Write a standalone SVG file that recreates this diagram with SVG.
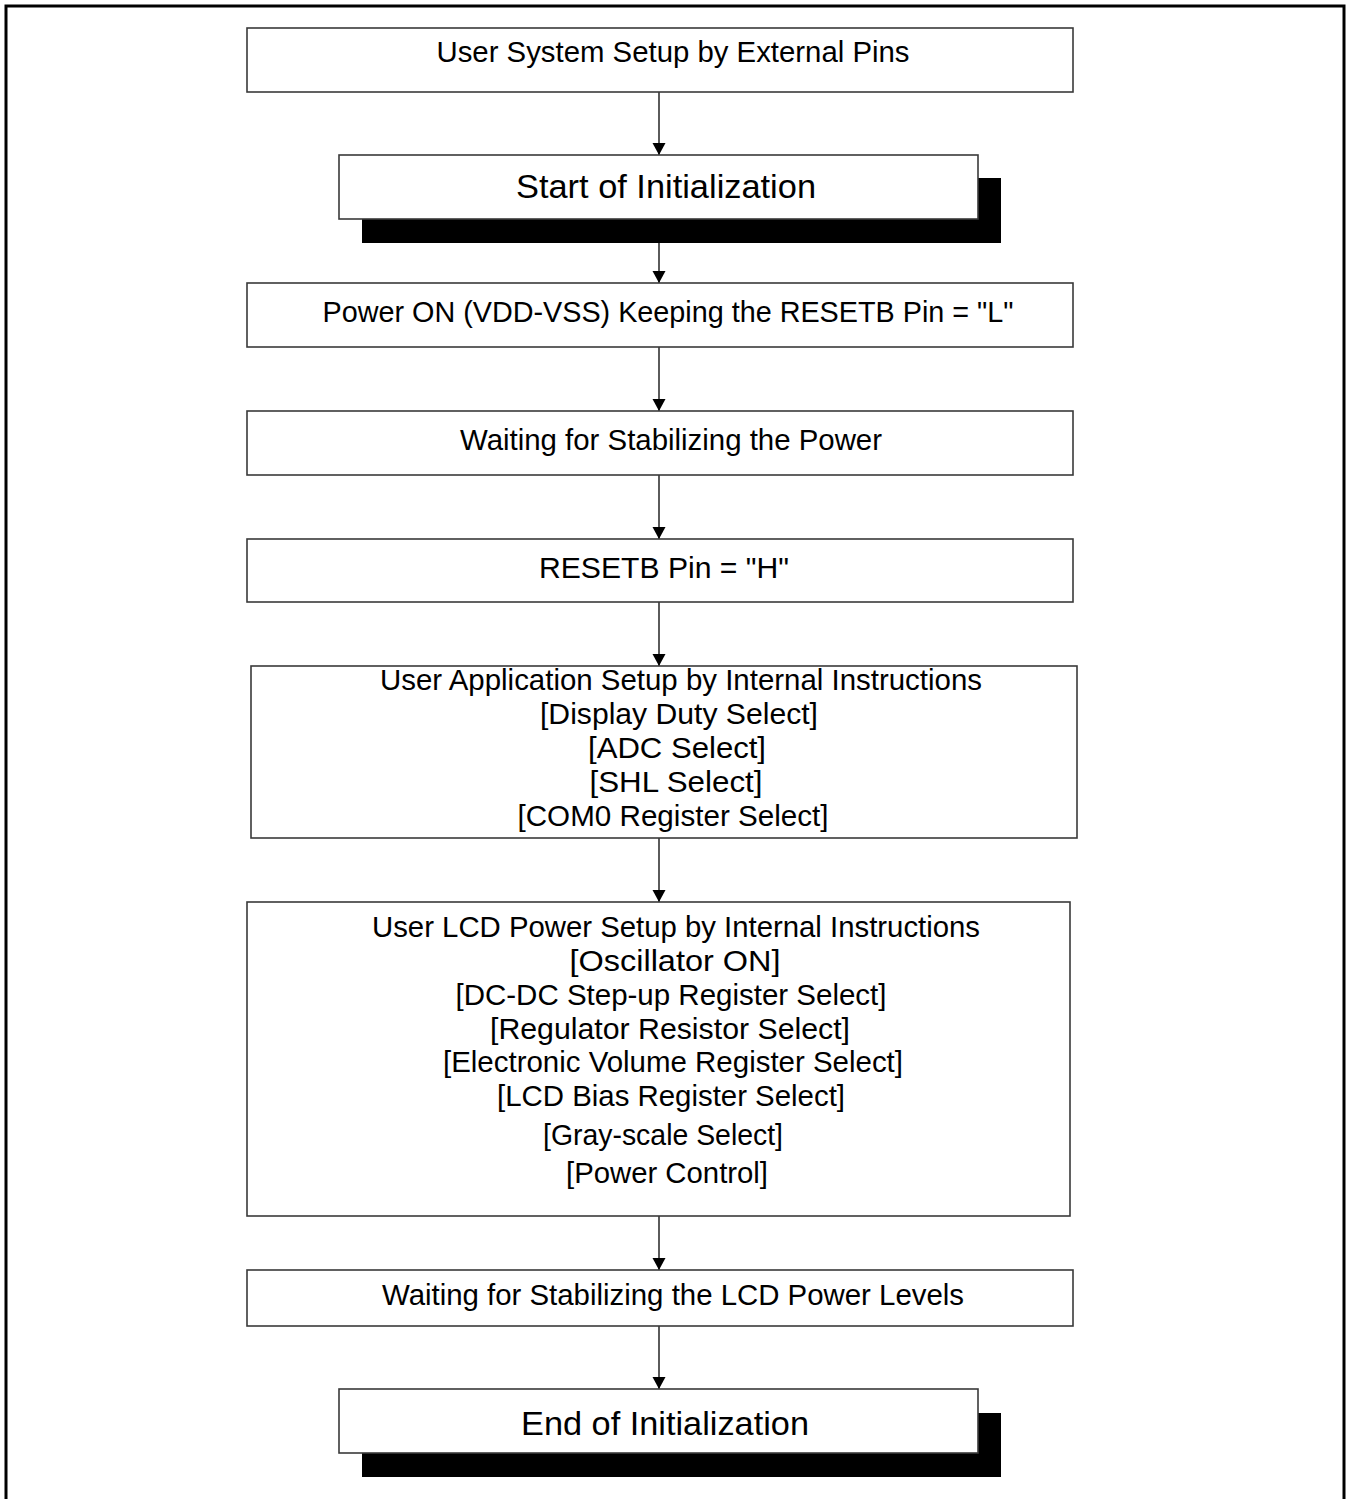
<svg xmlns="http://www.w3.org/2000/svg" width="1347" height="1499" viewBox="0 0 1347 1499">
<style>
.box{fill:#fff;stroke:#3a3a3a;stroke-width:1.6}
.shadow{fill:#000}
.t{font-family:"Liberation Sans",Arial,sans-serif;font-size:29px;fill:#000;text-anchor:middle}
.big{font-size:34px}
.conn line{stroke:#333;stroke-width:1.6}
</style>
<defs>
<marker id="ah" markerWidth="13" markerHeight="14" refX="12" refY="6.5" orient="auto" markerUnits="userSpaceOnUse">
<path d="M0,0 L12,6.5 L0,13 Z" fill="#000"/>
</marker>
</defs>
<rect x="6" y="6" width="1338" height="1510" fill="#fff" stroke="#000" stroke-width="3"/>
<g id="connectors" class="conn">
<line x1="659" y1="92" x2="659" y2="155" marker-end="url(#ah)"/>
<line x1="659" y1="243" x2="659" y2="283" marker-end="url(#ah)"/>
<line x1="659" y1="347" x2="659" y2="411" marker-end="url(#ah)"/>
<line x1="659" y1="475" x2="659" y2="539" marker-end="url(#ah)"/>
<line x1="659" y1="602" x2="659" y2="666" marker-end="url(#ah)"/>
<line x1="659" y1="838" x2="659" y2="902" marker-end="url(#ah)"/>
<line x1="659" y1="1216" x2="659" y2="1270" marker-end="url(#ah)"/>
<line x1="659" y1="1326" x2="659" y2="1389" marker-end="url(#ah)"/>
</g>
<g id="n1">
<rect class="box" x="247" y="28" width="826" height="64"/>
<text class="t" x="673" y="62" textLength="473" lengthAdjust="spacingAndGlyphs">User System Setup by External Pins</text>
</g>
<g id="n2">
<rect class="shadow" x="362" y="178" width="639" height="65"/>
<rect class="box" x="339" y="155" width="639" height="64"/>
<text class="t big" x="666" y="198" textLength="300" lengthAdjust="spacingAndGlyphs">Start of Initialization</text>
</g>
<g id="n3">
<rect class="box" x="247" y="283" width="826" height="64"/>
<text class="t" x="668" y="322" textLength="691" lengthAdjust="spacingAndGlyphs">Power ON (VDD-VSS) Keeping the RESETB Pin = "L"</text>
</g>
<g id="n4">
<rect class="box" x="247" y="411" width="826" height="64"/>
<text class="t" x="671" y="450" textLength="422" lengthAdjust="spacingAndGlyphs">Waiting for Stabilizing the Power</text>
</g>
<g id="n5">
<rect class="box" x="247" y="539" width="826" height="63"/>
<text class="t" x="664" y="578" textLength="250" lengthAdjust="spacingAndGlyphs">RESETB Pin = "H"</text>
</g>
<g id="n6">
<rect class="box" x="251" y="666" width="826" height="172"/>
<text class="t" x="681" y="690" textLength="602" lengthAdjust="spacingAndGlyphs">User Application Setup by Internal Instructions</text>
<text class="t" x="679" y="724" textLength="278" lengthAdjust="spacingAndGlyphs">[Display Duty Select]</text>
<text class="t" x="677" y="758" textLength="178" lengthAdjust="spacingAndGlyphs">[ADC Select]</text>
<text class="t" x="676" y="792" textLength="173" lengthAdjust="spacingAndGlyphs">[SHL Select]</text>
<text class="t" x="673" y="826" textLength="311" lengthAdjust="spacingAndGlyphs">[COM0 Register Select]</text>
</g>
<g id="n7">
<rect class="box" x="247" y="902" width="823" height="314"/>
<text class="t" x="676" y="937" textLength="608" lengthAdjust="spacingAndGlyphs">User LCD Power Setup by Internal Instructions</text>
<text class="t" x="675" y="971" textLength="211" lengthAdjust="spacingAndGlyphs">[Oscillator ON]</text>
<text class="t" x="671" y="1005" textLength="431" lengthAdjust="spacingAndGlyphs">[DC-DC Step-up Register Select]</text>
<text class="t" x="670" y="1039" textLength="360" lengthAdjust="spacingAndGlyphs">[Regulator Resistor Select]</text>
<text class="t" x="673" y="1072" textLength="460" lengthAdjust="spacingAndGlyphs">[Electronic Volume Register Select]</text>
<text class="t" x="671" y="1106" textLength="348" lengthAdjust="spacingAndGlyphs">[LCD Bias Register Select]</text>
<text class="t" x="663" y="1145" textLength="240" lengthAdjust="spacingAndGlyphs">[Gray-scale Select]</text>
<text class="t" x="667" y="1183" textLength="202" lengthAdjust="spacingAndGlyphs">[Power Control]</text>
</g>
<g id="n8">
<rect class="box" x="247" y="1270" width="826" height="56"/>
<text class="t" x="673" y="1305" textLength="582" lengthAdjust="spacingAndGlyphs">Waiting for Stabilizing the LCD Power Levels</text>
</g>
<g id="n9">
<rect class="shadow" x="362" y="1413" width="639" height="64"/>
<rect class="box" x="339" y="1389" width="639" height="64"/>
<text class="t big" x="665" y="1435" textLength="288" lengthAdjust="spacingAndGlyphs">End of Initialization</text>
</g>
</svg>
